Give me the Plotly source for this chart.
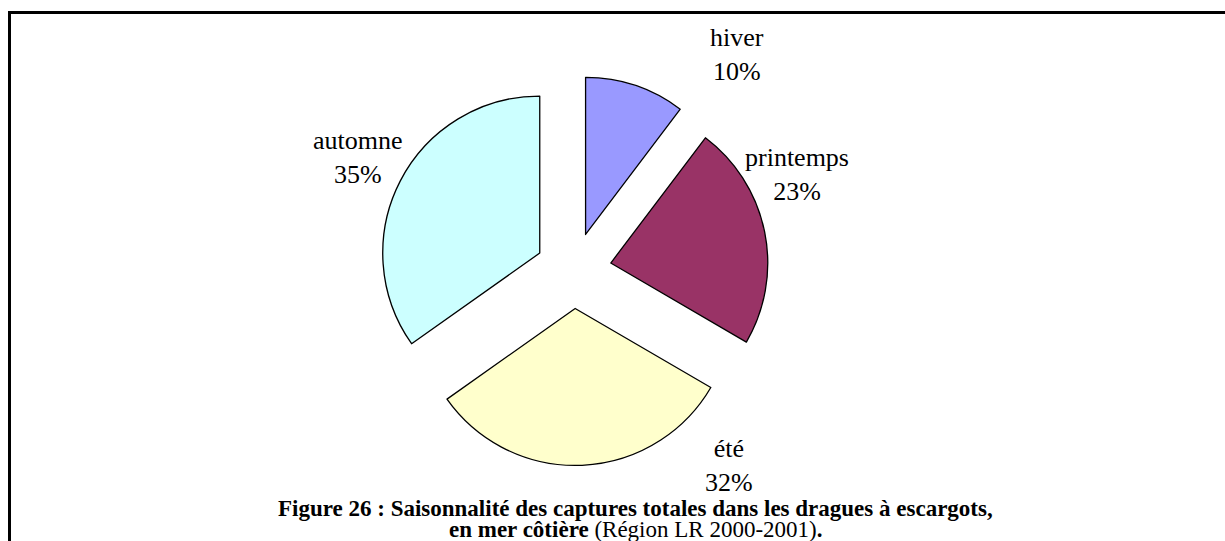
import plotly.graph_objects as go

# ---- data ----
seasons = ["hiver", "printemps", "été", "automne"]
shares = [10.3, 23.1, 31.8, 34.8]
colors = ["#9999FF", "#993366", "#FFFFCC", "#CCFFFF"]
title_line1 = "Figure 26 : Saisonnalité des captures totales dans les dragues à escargots,"
title_line2_bold = "en mer côtière"
title_line2_regular = " (Région LR 2000-2001)"

# ---- layout / style (positions of label boxes in paper px) ----
W, H = 1225, 541
label_pos = {"hiver": (737, 54), "printemps": (797, 174), "été": (729, 465), "automne": (358, 158)}
cx, cy, half = 573.5, 270.5, 195.0
font_family = "Liberation Serif, Times New Roman, serif"

fig = go.Figure()
fig.add_trace(go.Pie(
    labels=seasons,
    values=shares,
    sort=False,
    direction="clockwise",
    rotation=0,
    pull=[0.242] * len(seasons),
    marker=dict(colors=colors, line=dict(color="black", width=1.3)),
    textinfo="none",
    hoverinfo="label+percent",
    showlegend=False,
    domain=dict(x=[(cx - half) / W, (cx + half) / W],
                y=[1 - (cy + half) / H, 1 - (cy - half) / H]),
))

total = sum(shares)
annotations = []
for s, v in zip(seasons, shares):
    px, py = label_pos[s]
    annotations.append(dict(
        x=px / W, y=1 - py / H, xref="paper", yref="paper",
        text=f"{s}<br>{round(100 * v / total)}%",
        showarrow=False, xanchor="center", yanchor="middle", borderpad=0,
        font=dict(family=font_family, size=26, color="black"),
    ))

annotations.append(dict(
    x=635 / W, y=1 - 508 / H, xref="paper", yref="paper",
    text=f"<b>{title_line1}</b>",
    showarrow=False, xanchor="center", yanchor="middle", borderpad=0,
    font=dict(family=font_family, size=23, color="black"),
))
annotations.append(dict(
    x=635 / W, y=1 - 529 / H, xref="paper", yref="paper",
    text=f"<b>{title_line2_bold}</b>{title_line2_regular}<b>.</b>",
    showarrow=False, xanchor="center", yanchor="middle", borderpad=0,
    font=dict(family=font_family, size=23, color="black"),
))

fig.update_layout(
    width=W, height=H,
    margin=dict(l=0, r=0, t=0, b=0),
    paper_bgcolor="white", plot_bgcolor="white",
    annotations=annotations,
    shapes=[dict(type="rect", xref="paper", yref="paper",
                 x0=9.5 / W, x1=1.02, y0=-0.02, y1=1 - 12.5 / H,
                 line=dict(color="black", width=3), fillcolor="rgba(0,0,0,0)")],
)

fig.write_html("out.html", config={"displayModeBar": False},
               post_script="document.body.style.margin='0';document.body.style.overflow='hidden';")
